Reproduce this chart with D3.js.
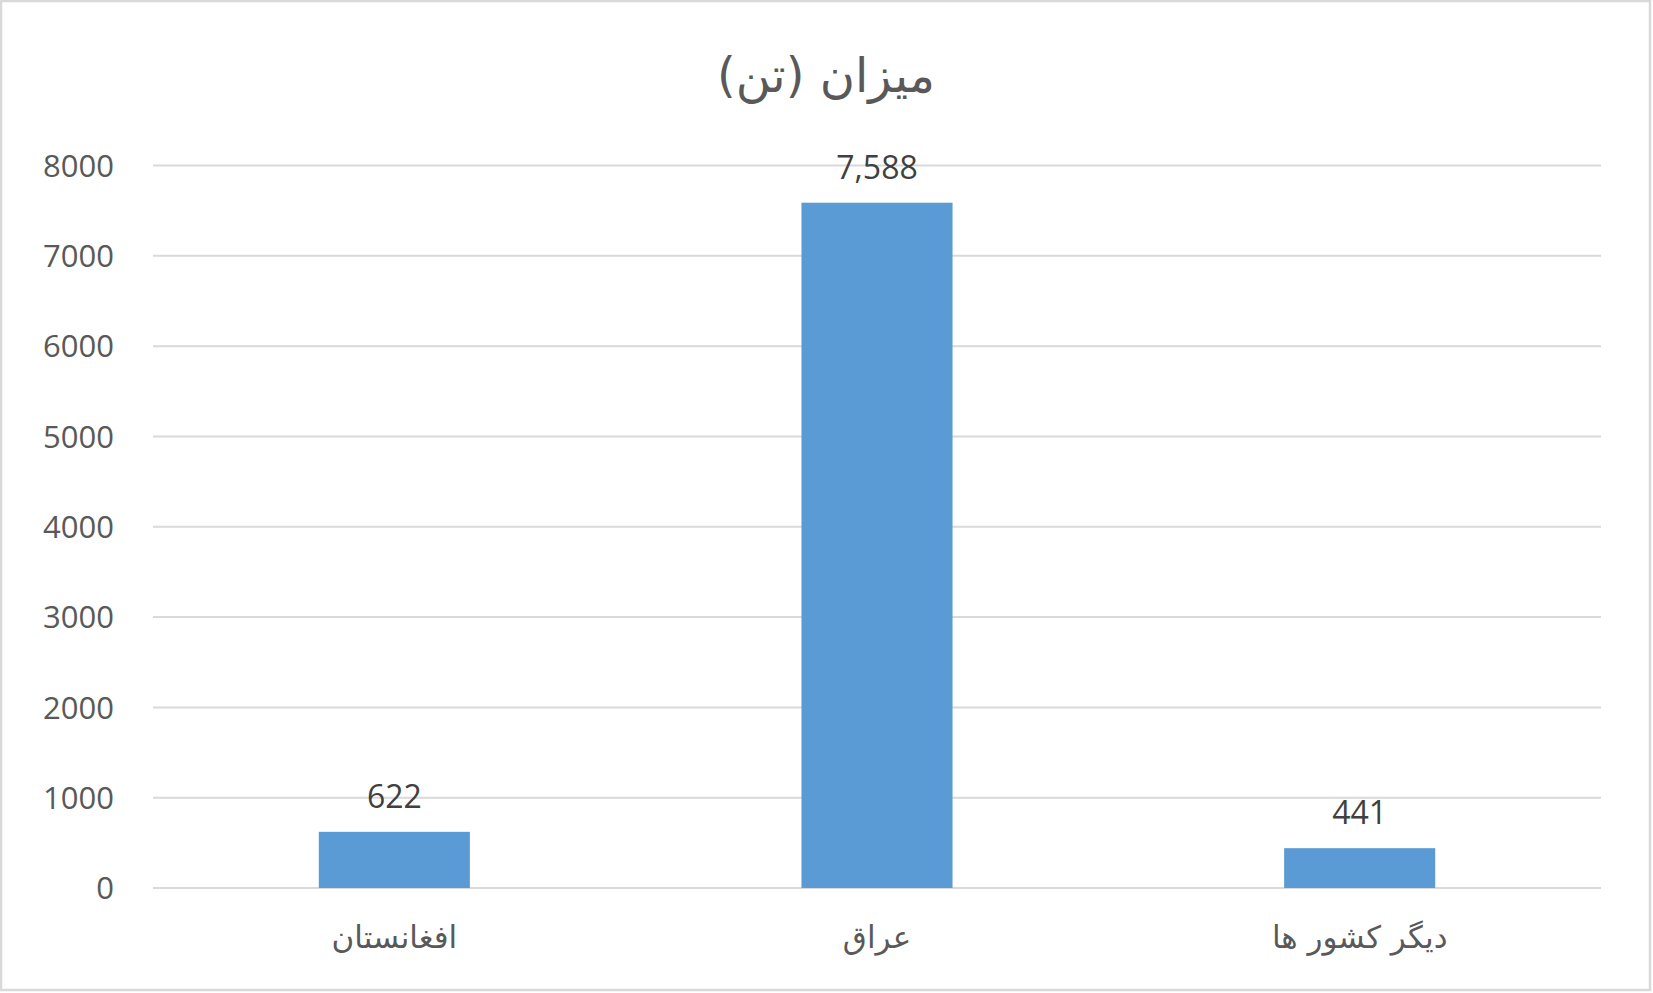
<!DOCTYPE html>
<html><head><meta charset="utf-8">
<script src="https://cdn.jsdelivr.net/npm/d3@7"></script>
<style>body{margin:0;background:#fff}</style>
</head><body>
<script>
var categories = ["افغانستان", "عراق", "دیگر کشور ها"]
var values = [622, 7588, 441]
var ticks = [0, 1000, 2000, 3000, 4000, 5000, 6000, 7000, 8000]
var title = "میزان (تن)"

var W = 1653, H = 993
var svg = d3.select("body").append("svg").attr("width", W).attr("height", H)
    .style("font-family", "'Open Sans', 'DejaVu Sans', sans-serif")

svg.append("rect").attr("x", 1).attr("y", 1).attr("width", W - 4).attr("height", H - 4)
    .attr("fill", "#fff").attr("stroke", "#d9d9d9").attr("stroke-width", 2.5)

var x = d3.scaleBand().domain(categories).range([153, 1601]).paddingInner(0.687).paddingOuter(0.3435)
var y = d3.scaleLinear().domain([0, 8000]).range([888, 165.5])

// gridlines
svg.selectAll("line.grid").data(ticks).enter().append("line")
    .attr("x1", 153).attr("x2", 1601)
    .attr("y1", function(d) { return y(d) }).attr("y2", function(d) { return y(d) })
    .attr("stroke", "#d9d9d9").attr("stroke-width", 2)

svg.selectAll("text.tick").data(ticks).enter().append("text")
    .attr("x", 114).attr("y", function(d) { return y(d) })
    .attr("dy", "0.36em").attr("text-anchor", "end")
    .attr("font-size", 31).attr("fill", "#595959")
    .text(function(d) { return d })

svg.selectAll("rect.bar").data(values).enter().append("rect")
    .attr("x", function(d, i) { return x(categories[i]) })
    .attr("y", function(d) { return y(d) })
    .attr("width", x.bandwidth())
    .attr("height", function(d) { return y(0) - y(d) })
    .attr("fill", "#5b9bd5")

svg.selectAll("text.val").data(values).enter().append("text")
    .attr("x", function(d, i) { return x(categories[i]) + x.bandwidth() / 2 })
    .attr("y", function(d) { return y(d) - 24 })
    .attr("text-anchor", "middle").attr("font-size", 32).attr("fill", "#404040")
    .text(function(d) { return d3.format(",")(d) })

svg.selectAll("text.cat").data(categories).enter().append("text")
    .attr("x", function(d) { return x(d) + x.bandwidth() / 2 })
    .attr("y", 948).attr("text-anchor", "middle")
    .attr("font-size", 31).attr("fill", "#595959")
    .attr("direction", "rtl").style("unicode-bidi", "plaintext")
    .style("font-family", "'DejaVu Sans', sans-serif")
    .text(function(d) { return d })

svg.append("text").attr("x", 826).attr("y", 92).attr("text-anchor", "middle")
    .attr("font-size", 48).attr("fill", "#595959")
    .style("font-family", "'DejaVu Sans', sans-serif")
    .text(title)
</script>
</body></html>
